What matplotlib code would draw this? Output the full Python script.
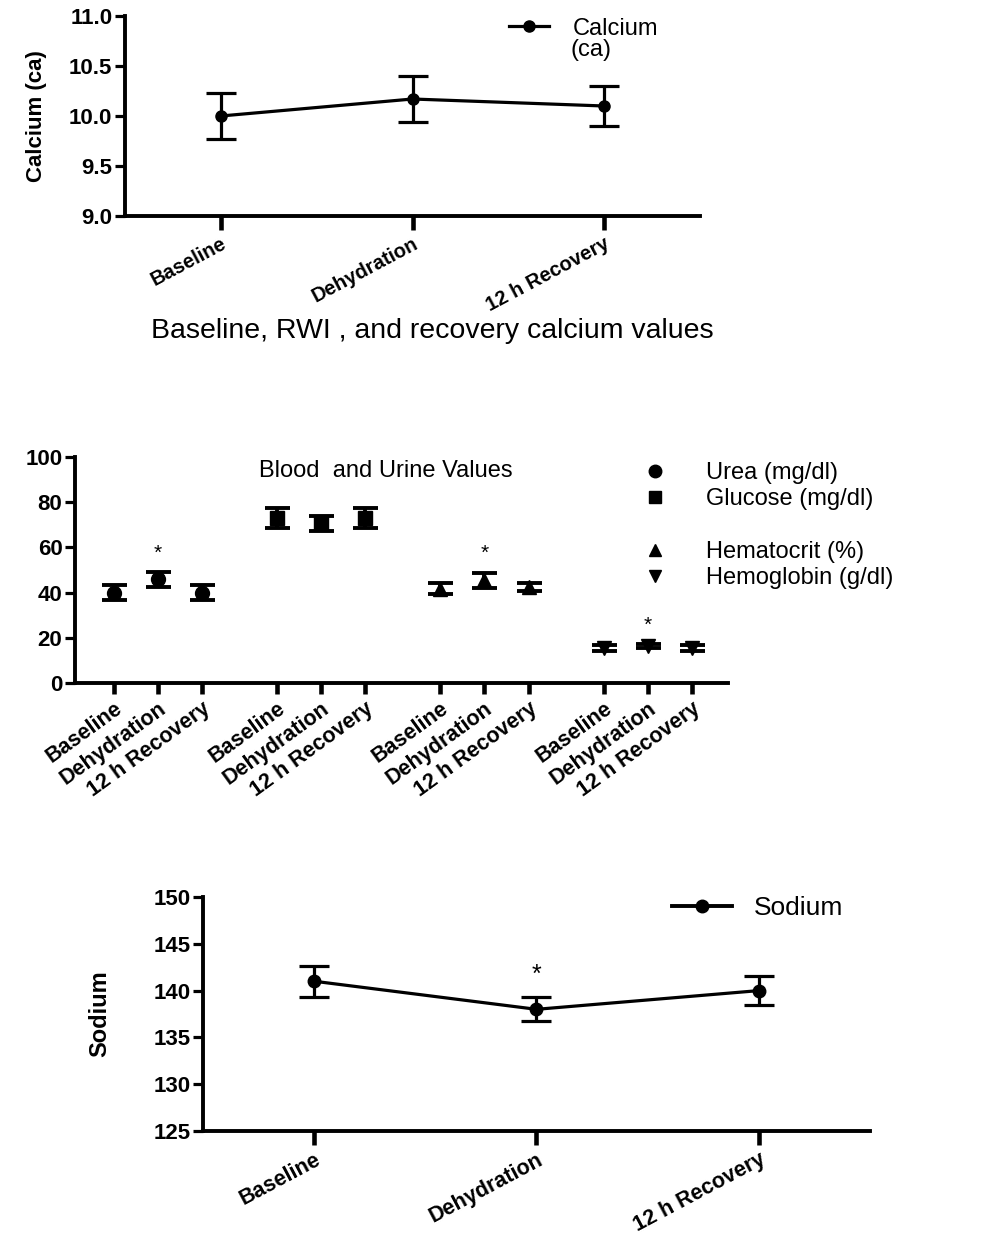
import matplotlib
matplotlib.use("Agg")
import matplotlib.pyplot as plt
from matplotlib.lines import Line2D

plt.rcParams['font.family'] = ['Liberation Sans', 'DejaVu Sans']

# ---------------- data ----------------
conditions = ["Baseline", "Dehydration", "12 h Recovery"]

calcium_mean = [10.0, 10.17, 10.1]
calcium_err = [0.23, 0.23, 0.20]

urea_mean = [40.0, 45.8, 40.0]
urea_err = [3.2, 3.2, 3.2]
glucose_mean = [72.9, 70.6, 72.9]
glucose_err = [4.4, 3.2, 4.4]
hematocrit_mean = [41.8, 45.5, 42.5]
hematocrit_err = [2.6, 3.3, 1.8]
hemoglobin_mean = [15.4, 16.3, 15.4]
hemoglobin_err = [1.2, 1.0, 1.2]
blood_series = ["Urea (mg/dl)", "Glucose (mg/dl)", "Hematocrit (%)", "Hemoglobin (g/dl)"]
blood_markers = ["o", "s", "^", "v"]
blood_star_y = {0: 57.5, 2: 57.5, 3: 25.5}   # asterisk above Dehydration

sodium_mean = [141.0, 138.0, 140.0]
sodium_err = [1.65, 1.3, 1.55]
sodium_star_y = 141.7

LW = 2.3
TICK_FS = 16
W, H = 989, 1241
fig = plt.figure(figsize=(W / 100, H / 100), dpi=100)


def frac(x0, y0, x1, y1):
    return [x0 / W, 1 - y1 / H, (x1 - x0) / W, (y1 - y0) / H]


def style_axes(ax, xtick_len=9):
    for s in ['top', 'right']:
        ax.spines[s].set_visible(False)
    for s in ['left', 'bottom']:
        ax.spines[s].set_linewidth(LW + 0.5)
    ax.tick_params(axis='y', length=7, width=LW, labelsize=TICK_FS, pad=2)
    ax.tick_params(axis='x', length=xtick_len, width=LW + 1, pad=3)
    for lab in ax.get_yticklabels():
        lab.set_fontweight('bold')


x = list(range(len(conditions)))

# ---------------- panel 1: calcium ----------------
ax1 = fig.add_axes(frac(125, 16, 700, 216))
ax1.errorbar(x, calcium_mean, yerr=calcium_err, color='black', lw=LW,
             marker='o', ms=8, capsize=11, capthick=LW, elinewidth=LW)
ax1.set_xlim(-0.5, 2.5)
ax1.set_ylim(9.0, 11.0)
ax1.set_yticks([9.0, 9.5, 10.0, 10.5, 11.0])
ax1.set_yticklabels(["9.0", "9.5", "10.0", "10.5", "11.0"])
ax1.set_xticks(x)
ax1.set_xticklabels(conditions, rotation=28, ha='right', rotation_mode='anchor',
                    fontweight='bold', fontsize=14.5)
style_axes(ax1, xtick_len=10)
ax1.set_ylabel("Calcium (ca)", fontsize=16, fontweight='bold', labelpad=16)
h1 = Line2D([], [], color='black', lw=LW, marker='o', ms=8, label="Calcium")
ax1.legend(handles=[h1], loc='upper left', bbox_to_anchor=(492 / W, 1 - 1 / H),
           bbox_transform=fig.transFigure, frameon=False, fontsize=17,
           handlelength=1.7, handletextpad=1.0, borderpad=0.2)
fig.text(571 / W, 1 - 50 / H, "(ca)", ha='left', va='center', fontsize=17)
fig.text(432 / W, 1 - 331 / H, "Baseline, RWI , and recovery calcium values",
         ha='center', va='center', fontsize=20.5)

# ---------------- panel 2: blood and urine ----------------
ax2 = fig.add_axes(frac(75, 457, 728, 683))
group_gap = 3.7
means = [urea_mean, glucose_mean, hematocrit_mean, hemoglobin_mean]
errs = [urea_err, glucose_err, hematocrit_err, hemoglobin_err]
handles = []
positions_all = []
labels_all = []
for g, (m, e, mk, name) in enumerate(zip(means, errs, blood_markers, blood_series)):
    pos = [g * group_gap + i for i in range(len(conditions))]
    positions_all += pos
    labels_all += conditions
    ax2.errorbar(pos, m, yerr=e, color='black', linestyle='none', marker=mk,
                 ms=10, capsize=9, capthick=LW + 0.5, elinewidth=LW + 0.5)
    handles.append(Line2D([], [], color='black', linestyle='none', marker=mk,
                          ms=9, label=name))
for g, yv in blood_star_y.items():
    ax2.text(g * group_gap + 1, yv, "*", ha='center', va='center', fontsize=15)
ax2.set_xlim(-0.88, 13.92)
ax2.set_ylim(0, 100)
ax2.set_yticks([0, 20, 40, 60, 80, 100])
ax2.set_xticks(positions_all)
ax2.set_xticklabels(labels_all, rotation=36, ha='right', rotation_mode='anchor',
                    fontweight='bold', fontsize=15.5)
style_axes(ax2, xtick_len=8)
blank = Line2D([], [], linestyle='none', marker=None, label=" ")
ax2.legend(handles=[handles[0], handles[1], blank, handles[2], handles[3]],
           loc='upper left', bbox_to_anchor=(616 / W, 1 - 441 / H),
           bbox_transform=fig.transFigure, frameon=False, fontsize=17,
           handlelength=1.5, handletextpad=1.4, labelspacing=0.18)
fig.text(386 / W, 1 - 471 / H, "Blood  and Urine Values", ha='center',
         va='center', fontsize=17)

# ---------------- panel 3: sodium ----------------
ax3 = fig.add_axes(frac(203, 897, 870, 1131))
ax3.errorbar(x, sodium_mean, yerr=sodium_err, color='black', lw=LW,
             marker='o', ms=9, capsize=11, capthick=LW, elinewidth=LW)
ax3.text(1, sodium_star_y, "*", ha='center', va='center', fontsize=18)
ax3.set_xlim(-0.5, 2.5)
ax3.set_ylim(125, 150)
ax3.set_yticks([125, 130, 135, 140, 145, 150])
ax3.set_xticks(x)
ax3.set_xticklabels(conditions, rotation=28, ha='right', rotation_mode='anchor',
                    fontweight='bold', fontsize=15.5)
style_axes(ax3, xtick_len=10)
ax3.set_ylabel("Sodium", fontsize=17, fontweight='bold', labelpad=30)
h3 = Line2D([], [], color='black', lw=LW + 0.5, marker='o', ms=9, label="Sodium")
ax3.legend(handles=[h3], loc='upper left', bbox_to_anchor=(648 / W, 1 - 872 / H),
           bbox_transform=fig.transFigure, frameon=False, fontsize=19,
           handlelength=2.3, handletextpad=0.8)

fig.savefig("out.png", dpi=100)
